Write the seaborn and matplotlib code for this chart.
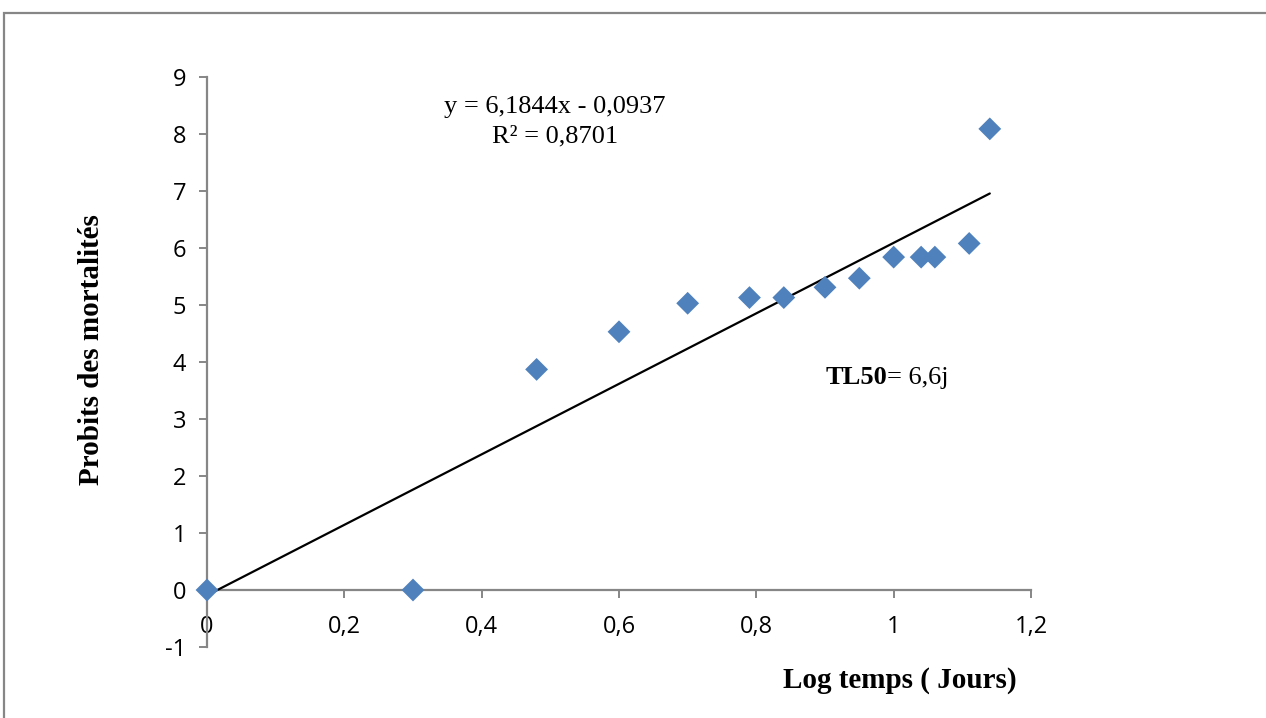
import numpy as np
import pandas as pd
import matplotlib
matplotlib.use("Agg")
import matplotlib.pyplot as plt
import seaborn as sns
from matplotlib.patches import Rectangle

# ---- data ----
log_temps = [0.0, 0.30, 0.48, 0.60, 0.70, 0.79, 0.84, 0.90, 0.95, 1.00, 1.04, 1.06, 1.11, 1.14]
probits = [0.0, 0.0, 3.87, 4.53, 5.03, 5.13, 5.13, 5.31, 5.47, 5.84, 5.84, 5.84, 6.08, 8.09]
slope = 6.1844
intercept = -0.0937
r2 = 0.8701
x_ticks = [0, 0.2, 0.4, 0.6, 0.8, 1.0, 1.2]
x_tick_labels = ["0", "0,2", "0,4", "0,6", "0,8", "1", "1,2"]
y_ticks = [-1, 0, 1, 2, 3, 4, 5, 6, 7, 8, 9]
y_tick_labels = ["-1", "0", "1", "2", "3", "4", "5", "6", "7", "8", "9"]

df = pd.DataFrame({"x": log_temps, "y": probits})
x_fit = np.array([min(log_temps), max(log_temps)])
fit_df = pd.DataFrame({"x": x_fit, "y": slope * x_fit + intercept})

sns.set_theme(style="white")
plt.rcParams["font.family"] = ["Open Sans", "DejaVu Sans"]
plt.rcParams["text.color"] = "black"
plt.rcParams["axes.labelcolor"] = "black"

fig = plt.figure(figsize=(12.66, 7.18), dpi=100)
ax = fig.add_axes([207 / 1266, 1 - 647 / 718, (1031 - 207) / 1266, (647 - 77) / 718])

grey = "#868686"
sns.lineplot(data=fit_df, x="x", y="y", ax=ax, color="black", lw=1.6, zorder=3)
sns.scatterplot(data=df, x="x", y="y", ax=ax, marker="D", s=135, color="#4F81BD",
                edgecolor="none", zorder=4, clip_on=False)

ax.set_xlim(0, 1.2)
ax.set_ylim(-1, 9)
ax.set_xticks(x_ticks)
ax.set_xticklabels(x_tick_labels)
ax.set_yticks(y_ticks)
ax.set_yticklabels(y_tick_labels)

for s in ["top", "right"]:
    ax.spines[s].set_visible(False)
ax.spines["bottom"].set_position(("data", 0))
for s in ["left", "bottom"]:
    ax.spines[s].set_color(grey)
    ax.spines[s].set_linewidth(1.6)
ax.tick_params(axis="both", direction="out", length=6, width=1.4, color=grey,
               labelsize=17, labelcolor="black")
ax.tick_params(axis="x", pad=12, bottom=True)
ax.tick_params(axis="y", pad=9, left=True)

serif = ["Liberation Serif", "DejaVu Serif"]
ax.set_xlabel("Log temps ( Jours)", fontsize=21, fontweight="bold", family=serif, color="black")
ax.xaxis.set_label_coords((900 - 207) / 824, (647 - 680) / 570)
ax.xaxis.label.set_va("center")
ax.set_ylabel("Probits des mortalités", fontsize=21, fontweight="bold", family=serif, color="black")
ax.yaxis.set_label_coords((92 - 207) / 824, (647 - 350) / 570)
ax.yaxis.label.set_va("center")

ax.text(0.507, 8.47, f"y = {slope:.4f}x - {abs(intercept):.4f}".replace(".", ","),
        ha="center", va="center", fontsize=19, family=serif, color="black")
ax.text(0.507, 7.96, f"R² = {r2:.4f}".replace(".", ","),
        ha="center", va="center", fontsize=19, family=serif, color="black")
t1 = ax.text(0.901, 3.72, "TL50", ha="left", va="center", fontsize=19,
             fontweight="bold", family=serif, color="black")
fig.canvas.draw()
bb = t1.get_window_extent()
inv = ax.transData.inverted()
x_end = inv.transform((bb.x1, bb.y0))[0]
ax.text(x_end, 3.72, "= 6,6j", ha="left", va="center", fontsize=19, family=serif, color="black")

fig.add_artist(Rectangle((4 / 1266, -0.1), 1.2, 1 - 13 / 718 + 0.1,
                         transform=fig.transFigure, fill=False, edgecolor=grey, lw=1.6))

fig.savefig("out.png", dpi=100)
